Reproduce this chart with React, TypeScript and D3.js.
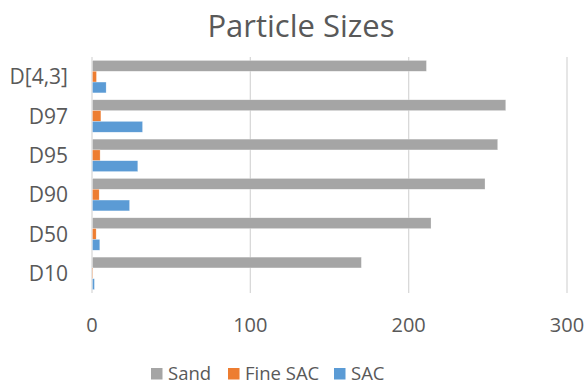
import React from "react";
import * as d3 from "d3";

const categories = ["D10", "D50", "D90", "D95", "D97", "D[4,3]"];
const seriesNames = ["Sand", "Fine SAC", "SAC"];
const sand = [169.8, 213.8, 247.9, 255.9, 261, 210.9];
const fineSac = [0.3, 2.3, 4.2, 4.8, 5.3, 2.5];
const sac = [1.2, 4.6, 23.4, 28.6, 31.6, 8.6];
const xTicks = [0, 100, 200, 300];
const colors = ["#A5A5A5", "#ED7D31", "#5B9BD5"];

const W = 587;
const H = 385;
const FONT = "'Open Sans', 'Noto Sans', sans-serif";
const TEXT = "#595959";

export default function App() {
  const x = d3.scaleLinear().domain([0, 300]).range([92, 567]);
  // last category sits at the top
  const y = d3
    .scaleBand<string>()
    .domain([...categories].reverse())
    .range([57, 293])
    .paddingInner(0)
    .paddingOuter(0);
  const inner = d3
    .scaleBand<string>()
    .domain(seriesNames)
    .range([0, y.bandwidth()])
    .paddingInner(0)
    .paddingOuter(0.32);
  const values = [sand, fineSac, sac];

  const legendItems = [
    { name: "Sand", x: 151 },
    { name: "Fine SAC", x: 228 },
    { name: "SAC", x: 334 },
  ];

  return (
    <svg
      width={W}
      height={H}
      style={{ position: "absolute", left: 0, top: 0, background: "#fff" }}
      fontFamily={FONT}
    >
      <text x={301} y={37} textAnchor="middle" fontSize={31} fill={TEXT}>
        Particle Sizes
      </text>
      {xTicks.map((t) => (
        <g key={t}>
          <line
            x1={x(t)}
            x2={x(t)}
            y1={57}
            y2={293}
            stroke="#D9D9D9"
            strokeWidth={1.3}
          />
          <text
            x={x(t)}
            y={332}
            textAnchor="middle"
            fontSize={20}
            fill={TEXT}
          >
            {t}
          </text>
        </g>
      ))}
      {categories.map((c, ci) => (
        <g key={c}>
          <text
            x={68}
            y={(y(c) as number) + y.bandwidth() / 2 + 7.5}
            textAnchor="end"
            fontSize={21}
            fill={TEXT}
          >
            {c}
          </text>
          {seriesNames.map((s, si) => (
            <rect
              key={s}
              x={x(0) + 0.5}
              y={(y(c) as number) + (inner(s) as number)}
              width={Math.max(0, x(values[si][ci]) - x(0))}
              height={inner.bandwidth()}
              fill={colors[si]}
              stroke="#ffffff"
              strokeOpacity={0.5}
              strokeWidth={0.5}
            />
          ))}
        </g>
      ))}
      {legendItems.map((item, i) => (
        <g key={item.name}>
          <rect x={item.x} y={368} width={11.5} height={11.5} fill={colors[i]} />
          <text x={item.x + 17} y={379.5} fontSize={18.5} fill={TEXT}>
            {item.name}
          </text>
        </g>
      ))}
    </svg>
  );
}
